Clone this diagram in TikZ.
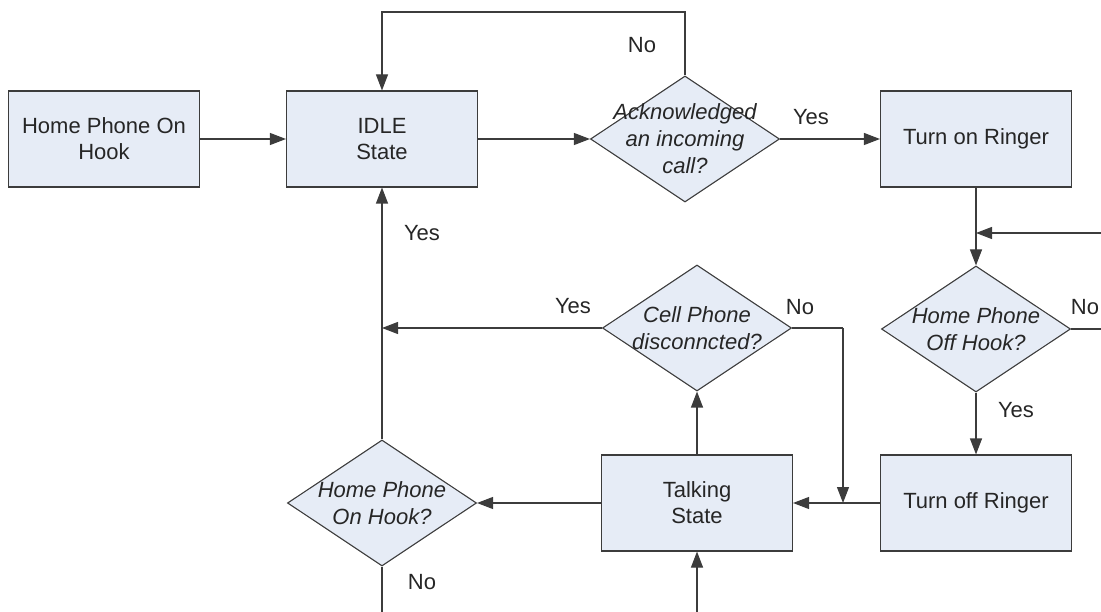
\documentclass[tikz,border=0pt]{standalone}
\usepackage{fontspec}
\setmainfont{Liberation Sans}
\usetikzlibrary{shapes.geometric,arrows.meta}

\definecolor{boxfill}{HTML}{E6ECF6}
\definecolor{edge}{HTML}{3C3C3C}
\definecolor{ink}{HTML}{262626}

\tikzset{
  every node/.style={text=ink},
  stepbox/.style={draw=edge, fill=boxfill, line width=1.1pt, minimum width=191pt,
    minimum height=96pt, inner sep=0pt, align=center,
    font=\fontsize{22}{26}\selectfont},
  decision/.style={draw=edge, fill=boxfill, line width=1.1pt, shape=diamond,
    minimum width=189pt, minimum height=126pt, inner sep=0pt},
  qtext/.style={align=center, inner sep=0pt, font=\fontsize{22}{27}\selectfont\itshape},
  lbl/.style={inner sep=0pt, font=\fontsize{22}{26}\selectfont},
  flow/.style={draw=edge, line width=1.1pt},
  arr/.style={flow, -{Triangle[length=16pt, width=12pt]}},
}

\begin{document}
\begin{tikzpicture}[x=1pt, y=-1pt]
\useasboundingbox (0,0) rectangle (1101,612);

% process boxes
\node[stepbox] (home) at (104,139) {Home Phone On\\Hook};
\node[stepbox] (idle) at (382,139) {IDLE\\State};
\node[stepbox] (ron)  at (976,139) {Turn on Ringer};
\node[stepbox] (roff) at (976,503) {Turn off Ringer};
\node[stepbox] (talk) at (697,503) {Talking\\State};

% decisions
\node[decision] (ack) at (685,139) {};
\node[qtext] (ack-t) at (685,139) {Acknowledged\\an incoming\\call?};
\node[decision] (off) at (976,329) {};
\node[qtext] (off-t) at (976,329) {Home Phone\\Off Hook?};
\node[decision] (cell) at (697,328) {};
\node[qtext] (cell-t) at (697,328) {Cell Phone\\disconncted?};
\node[decision] (onh) at (382,503) {};
\node[qtext] (onh-t) at (382,503) {Home Phone\\On Hook?};

% loose ends at the edges of the sheet
\coordinate (inR)   at (1101,233);
\coordinate (outR)  at (1101,329);
\coordinate (outB)  at (382,612);
\coordinate (inB)   at (697,612);
\coordinate (noDrop) at (843,328);
\coordinate (join)  at (843,503);

% connectors
\draw[arr] (home.east) -- (idle.west);
\draw[arr] (idle.east) -- (ack.west);
\draw[arr] (ack.north) -- (685,12) -| (idle.north);
\draw[arr] (ack.east) -- (ron.west);
\draw[arr] (ron.south) -- (off.north);
\draw[arr] (inR) -- (ron.south |- inR);
\draw[flow] (off.east) -- (outR);
\draw[arr] (off.south) -- (roff.north);
\draw[arr] (roff.west) -- (talk.east);
\draw[arr] (talk.north) -- (cell.south);
\draw[flow] (cell.east) -- (noDrop);
\draw[arr] (noDrop) -- (join);
\draw[arr] (cell.west) -- (onh.north |- cell.west);
\draw[arr] (talk.west) -- (onh.east);
\draw[arr] (onh.north) -- (onh.north |- idle.south);
\draw[flow] (onh.south) -- (outB);
\draw[arr] (inB) -- (talk.south);

% branch labels
\node[lbl] (l1) at (642,45)   {No};
\node[lbl] (l2) at (811,117)  {Yes};
\node[lbl] (l3) at (1085,307) {No};
\node[lbl] (l4) at (1016,410) {Yes};
\node[lbl] (l5) at (800,307)  {No};
\node[lbl] (l6) at (573,306)  {Yes};
\node[lbl] (l7) at (422,233)  {Yes};
\node[lbl] (l8) at (422,582)  {No};
\end{tikzpicture}
\end{document}
